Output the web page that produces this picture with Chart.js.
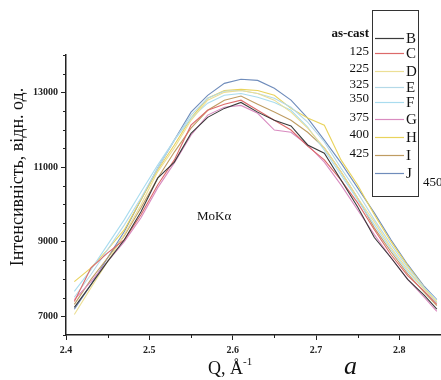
<!DOCTYPE html>
<html>
<head>
<meta charset="utf-8">
<script src="https://cdn.jsdelivr.net/npm/chart.js@4.4.1/dist/chart.umd.min.js"></script>
<style>
  html, body { margin: 0; padding: 0; background: #fff; }
  canvas { display: block; }
</style>
</head>
<body>
<canvas id="chart" width="441" height="380"></canvas>
<script>
// Q values (Å^-1) shared by all curves
const qValues = [2.41, 2.43, 2.45, 2.47, 2.49, 2.51, 2.53, 2.55, 2.57, 2.59, 2.61, 2.63,
                 2.65, 2.67, 2.69, 2.71, 2.73, 2.75, 2.77, 2.79, 2.81, 2.83, 2.845];

// intensity per curve
const curveB = [7240, 7850, 8470, 9050, 9800, 10700, 11130, 11900, 12330, 12570, 12730, 12470,
                12250, 12100, 11590, 11370, 10650, 9930, 9110, 8570, 7990, 7560, 7190];
const curveC = [7400, 8300, 8700, 9050, 9720, 10520, 11190, 12120, 12520, 12680, 12790, 12520,
                12250, 11990, 11560, 11190, 10650, 10040, 9320, 8650, 8090, 7670, 7320];
const curveD = [7050, 7770, 8470, 9190, 9990, 10870, 11510, 12250, 12790, 13000, 13050, 12970,
                12790, 12470, 12040, 11510, 10870, 10170, 9530, 8840, 8250, 7720, 7400];
const curveE = [7510, 8120, 8790, 9450, 10170, 10970, 11720, 12390, 12840, 13030, 13050, 12970,
                12840, 12600, 12200, 11670, 10970, 10310, 9590, 8920, 8310, 7770, 7450];
const curveF = [7670, 8250, 8920, 9590, 10330, 11050, 11720, 12310, 12710, 12920, 12970, 12870,
                12730, 12520, 12070, 11450, 10790, 10120, 9450, 8790, 8200, 7720, 7370];
const curveG = [7450, 7930, 8470, 9000, 9640, 10440, 11110, 11850, 12390, 12600, 12650, 12440,
                11990, 11930, 11590, 11130, 10520, 9850, 9190, 8570, 7990, 7510, 7130];
const curveH = [7930, 8300, 8790, 9320, 10120, 10920, 11590, 12310, 12840, 13050, 13080, 13050,
                12920, 12570, 12310, 12120, 11190, 10520, 9720, 9000, 8360, 7770, 7370];
const curveI = [7320, 7990, 8570, 9160, 9910, 10700, 11400, 12040, 12520, 12790, 12900, 12680,
                12470, 12250, 11930, 11510, 10870, 10170, 9370, 8730, 8140, 7640, 7290];
const curveJ = [7190, 7850, 8570, 9270, 10120, 10970, 11720, 12470, 12920, 13240, 13350, 13320,
                13110, 12790, 12310, 11720, 11110, 10440, 9770, 9050, 8390, 7800, 7450];

const curves = [curveB, curveC, curveD, curveE, curveF, curveG, curveH, curveI, curveJ];
const curveLetters = ['B', 'C', 'D', 'E', 'F', 'G', 'H', 'I', 'J'];
const curveTemps = ['as-cast', '125', '225', '325', '350', '375', '400', '425', '450'];
const curveColors = ['#3b3b3b', '#dc6a6a', '#ecdf95', '#b4d9e8', '#a9dcef',
                     '#d98cc0', '#e9d35c', '#bf9c62', '#6f8cbb'];

const xTicks = [2.4, 2.5, 2.6, 2.7, 2.8];
const yTicks = [7000, 9000, 11000, 13000];

const serif = "'Liberation Serif', 'DejaVu Serif', serif";

const datasets = curves.map((vals, i) => ({
  label: curveLetters[i],
  data: qValues.map((q, j) => ({ x: q, y: vals[j] })),
  borderColor: curveColors[i],
  borderWidth: 1.1,
  pointRadius: 0,
  tension: 0,
  fill: false
}));

// short ticks between the labelled ones
const minorTicks = {
  id: 'minorTicks',
  afterDraw(chart) {
    const { ctx, scales: { x, y } } = chart;
    ctx.save();
    ctx.strokeStyle = '#222';
    ctx.lineWidth = 1;
    ctx.beginPath();
    for (let k = 0; k <= 9; k++) {
      if (k % 2 === 0) continue;
      const px = Math.round(x.getPixelForValue(2.4 + k * 0.05)) + 0.5;
      ctx.moveTo(px, y.bottom);
      ctx.lineTo(px, y.bottom + 3);
    }
    for (let v = 6500; v <= 14000; v += 500) {
      if ((v - 7000) % 2000 === 0) continue;
      const py = Math.round(y.getPixelForValue(v)) + 0.5;
      ctx.moveTo(x.left - 3, py);
      ctx.lineTo(x.left, py);
    }
    ctx.stroke();
    ctx.restore();
  }
};

// axis titles, annotations and the boxed legend
const labels = {
  id: 'labels',
  afterDraw(chart) {
    const ctx = chart.ctx;
    ctx.save();
    ctx.fillStyle = '#111';

    ctx.save();
    ctx.translate(18, 177);
    ctx.rotate(-Math.PI / 2);
    ctx.font = '18px ' + serif;
    ctx.textAlign = 'center';
    ctx.textBaseline = 'middle';
    ctx.fillText('Інтенсивність, відн. од.', 0, 0);
    ctx.restore();

    ctx.font = '18px ' + serif;
    ctx.textAlign = 'left';
    ctx.textBaseline = 'alphabetic';
    ctx.fillText('Q, Å', 208, 374);
    const w = ctx.measureText('Q, Å').width;
    ctx.font = '11px ' + serif;
    ctx.fillText('-1', 208 + w, 365);

    ctx.font = 'italic 26px ' + serif;
    ctx.fillText('a', 344, 374);

    ctx.font = '13px ' + serif;
    ctx.fillText('MoKα', 197, 220);

    // legend box
    ctx.fillStyle = '#fff';
    ctx.fillRect(372, 10, 47, 187);
    ctx.strokeStyle = '#333';
    ctx.lineWidth = 1;
    ctx.strokeRect(372.5, 10.5, 46, 186);

    const rowY = [38, 53, 71, 87, 102, 119, 137, 155, 173];
    const tempY = [34, 52, 69, 85, 99, 118, 135, 154, 183];
    chart.data.datasets.forEach((ds, i) => {
      ctx.strokeStyle = ds.borderColor;
      ctx.lineWidth = 1.2;
      ctx.beginPath();
      ctx.moveTo(375, rowY[i] + 0.5);
      ctx.lineTo(404, rowY[i] + 0.5);
      ctx.stroke();
      ctx.fillStyle = '#111';
      ctx.font = '15px ' + serif;
      ctx.textAlign = 'left';
      ctx.textBaseline = 'middle';
      ctx.fillText(ds.label, 406, rowY[i] + 1);
      if (i < 8) {
        ctx.textAlign = 'right';
        ctx.font = (i === 0 ? 'bold 13px ' : '13px ') + serif;
        ctx.fillText(curveTemps[i], 369, tempY[i]);
      } else {
        ctx.textAlign = 'left';
        ctx.font = '13px ' + serif;
        ctx.fillText(curveTemps[i], 423, tempY[i]);
      }
    });
    ctx.restore();
  }
};

new Chart(document.getElementById('chart'), {
  type: 'line',
  data: { datasets: datasets },
  options: {
    responsive: false,
    animation: false,
    layout: { padding: { top: 55, left: 0, right: 0, bottom: 0 } },
    plugins: { legend: { display: false }, tooltip: { enabled: false } },
    scales: {
      x: {
        type: 'linear',
        min: 2.4,
        max: 2.85,
        afterBuildTicks: s => { s.ticks = xTicks.map(v => ({ value: v })); },
        afterFit: s => { s.height = 45; },
        border: { display: true, color: '#222', width: 1.5 },
        grid: { drawOnChartArea: false, tickLength: 5, color: '#222' },
        ticks: {
          color: '#222',
          padding: 4,
          maxRotation: 0,
          font: { family: serif, size: 10, weight: 'bold' },
          callback: v => v.toFixed(1)
        }
      },
      y: {
        min: 6500,
        max: 14000,
        afterBuildTicks: s => { s.ticks = yTicks.map(v => ({ value: v })); },
        afterFit: s => { s.width = 66; },
        border: { display: true, color: '#222', width: 1.5 },
        grid: { drawOnChartArea: false, tickLength: 5, color: '#222' },
        ticks: {
          color: '#222',
          padding: 3,
          font: { family: serif, size: 10, weight: 'bold' },
          callback: v => String(v)
        }
      }
    }
  },
  plugins: [minorTicks, labels]
});
</script>
</body>
</html>
